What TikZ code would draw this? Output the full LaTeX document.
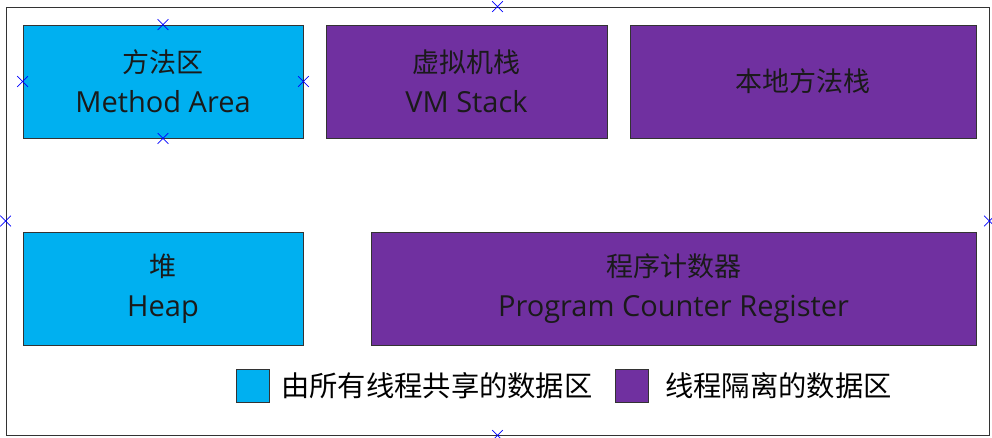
\documentclass[tikz,border=0pt]{standalone}
\usepackage{fontspec}
\setmainfont{Noto Sans CJK SC}
\newfontfamily\latinfont{Open Sans}
\usetikzlibrary{shapes.misc}
\definecolor{sharedcol}{HTML}{00B0F0}
\definecolor{threadcol}{HTML}{7030A0}
\definecolor{edgecol}{HTML}{333333}
\definecolor{txtcol}{HTML}{1A1A1A}
\newcommand{\eng}[1]{{\latinfont\fontsize{29}{40}\selectfont #1}}

\begin{document}
\begin{tikzpicture}[x=1pt, y=-1pt]

        % 1. Page size and the outer frame
        \useasboundingbox (0,0) rectangle (992,437);
        \tikzset{area/.style={draw=edgecol, line width=0.9pt, minimum height=113pt, inner sep=0pt, align=center, text=txtcol, font=\fontsize{27}{40}\selectfont},
                 shared/.style={area, fill=sharedcol},
                 private/.style={area, fill=threadcol},
                 keybox/.style={draw=edgecol, line width=0.9pt, minimum size=33pt, inner sep=0pt},
                 keytext/.style={anchor=west, inner sep=0pt, text=black, font=\fontsize{28.3}{32}\selectfont},
                 conpt/.style={cross out, draw=blue, line width=0.7pt, minimum size=10pt, inner sep=0pt}}

        \node[draw=edgecol, line width=0.9pt, minimum width=983pt, minimum height=428pt, inner sep=0pt] (frame) at (497.5,221) {};

        % 2. Top row of runtime data areas
        \node[shared, minimum width=280pt] (methodarea) at (163,81.5) {方法区\\\eng{Method Area}};
        \node[private, minimum width=281pt] (vmstack) at (466.5,81.5) {虚拟机栈\\\eng{VM Stack}};
        \node[private, minimum width=346pt] (nativestack) at (803,81.5) {本地方法栈};

        % 3. Bottom row
        \node[shared, minimum width=280pt] (heap) at (163,288.5) {堆\\\eng{Heap}};
        \node[private, minimum width=605pt] (pcreg) at (673.5,288.5) {程序计数器\\\eng{Program Counter Register}};

        % 4. Legend
        \node[keybox, fill=sharedcol] (sharedkey) at (253,385.5) {};
        \node[keytext] (sharedlabel) at (281,385.5) {由所有线程共享的数据区};
        \node[keybox, fill=threadcol] (threadkey) at (631.5,385.5) {};
        \node[keytext] (threadlabel) at (665,385.5) {线程隔离的数据区};

        % 5. Connection points
        \foreach \side in {north, south, west, east} {
            \node[conpt] at (methodarea.\side) {};
            \node[conpt] at (frame.\side) {};
        }

\end{tikzpicture}
\end{document}
